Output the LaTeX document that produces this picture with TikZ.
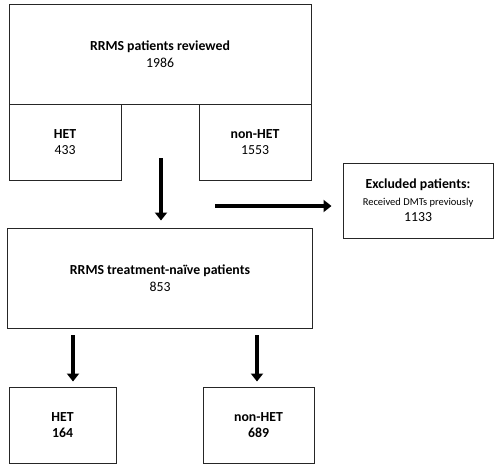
\documentclass[tikz,border=0pt]{standalone}
\usepackage{fontspec}
\setmainfont{Carlito}
\usetikzlibrary{arrows.meta}
\begin{document}
\begin{tikzpicture}[x=1pt,y=-1pt,
  box/.style={draw=black!85, line width=1pt, inner sep=0pt, align=center, font=\fontsize{13.8}{16.5}\selectfont},
  bigarrow/.style={line width=4.5pt, -{Triangle[width=12pt,length=8pt]}}]
\useasboundingbox (0,0) rectangle (500,467);
% top box
\node[box, minimum width=302pt, minimum height=100pt] (rev) at (160,54) {\textbf{RRMS patients reviewed}\\1986};
\node[box, minimum width=112pt, minimum height=76pt] (het1) at (65,142) {\textbf{HET}\\433};
\node[box, minimum width=112pt, minimum height=76pt] (nhet1) at (255,142) {\textbf{non-HET}\\1553};
\node[box, minimum width=150pt, minimum height=75pt] (excl) at (418,200.5) {\textbf{Excluded patients:}\\{\fontsize{10.5}{14}\selectfont Received DMTs previously}\\1133};
\node[box, minimum width=305pt, minimum height=100pt] (naive) at (160,278) {\textbf{RRMS treatment-naïve patients}\\853};
\node[box, minimum width=107pt, minimum height=76pt] (het2) at (62.5,425) {\textbf{HET}\\\textbf{164}};
\node[box, minimum width=111pt, minimum height=76pt] (nhet2) at (258.5,425) {\textbf{non-HET}\\\textbf{689}};
% arrows
\coordinate (a1s) at (161,158);
\draw[bigarrow] (a1s) -- ([yshift=7pt]naive.north -| a1s);
\coordinate (a2s) at (215,206);
\draw[bigarrow] (a2s) -- ([xshift=-11pt]excl.west |- a2s);
\coordinate (a3s) at (73,335);
\draw[bigarrow] (a3s) -- ([yshift=5pt]het2.north -| a3s);
\coordinate (a4s) at (257,335);
\draw[bigarrow] (a4s) -- ([yshift=5pt]nhet2.north -| a4s);
\end{tikzpicture}
\end{document}
